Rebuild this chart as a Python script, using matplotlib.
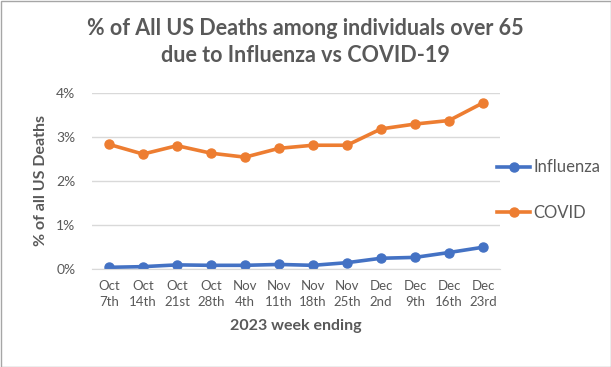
import matplotlib
matplotlib.use("Agg")
import matplotlib.pyplot as plt
from matplotlib.ticker import FuncFormatter
from matplotlib.patches import Rectangle
from matplotlib.lines import Line2D

weeks = ["Oct\n7th", "Oct\n14th", "Oct\n21st", "Oct\n28th", "Nov\n4th", "Nov\n11th",
         "Nov\n18th", "Nov\n25th", "Dec\n2nd", "Dec\n9th", "Dec\n16th", "Dec\n23rd"]
influenza = [0.045, 0.06, 0.10, 0.09, 0.09, 0.11, 0.09, 0.15, 0.25, 0.27, 0.38, 0.50]
covid = [2.83, 2.61, 2.80, 2.63, 2.54, 2.74, 2.81, 2.81, 3.18, 3.29, 3.37, 3.77]

blue = "#4472C4"
orange = "#ED7D31"
txt = "#595959"
plt.rcParams['font.family'] = ['Lato', 'DejaVu Sans']

fig = plt.figure(figsize=(6.11, 3.67), dpi=100)
ax = fig.add_axes([92/611, 1-269.3/367, (500-92)/611, (269.3-92.7)/367])
x = list(range(len(weeks)))
ax.plot(x, influenza, color=blue, lw=2.6, marker='o', ms=6.5, label="Influenza", solid_capstyle='round')
ax.plot(x, covid, color=orange, lw=2.6, marker='o', ms=6.5, label="COVID", solid_capstyle='round')
ax.set_xlim(-0.5, 11.5)
ax.set_ylim(0, 4)
ax.set_yticks([0, 1, 2, 3, 4])
ax.yaxis.set_major_formatter(FuncFormatter(lambda v, p: f"{int(v)}%"))
ax.set_xticks(x)
ax.set_xticklabels(weeks, fontsize=9.5, color=txt, linespacing=1.35)
ax.tick_params(axis='y', labelsize=10, colors=txt, length=0, pad=12)
ax.tick_params(axis='x', length=0, pad=8)
ax.grid(axis='y', color='#D9D9D9', lw=1)
ax.set_axisbelow(True)
for s in ['top', 'right', 'left']:
    ax.spines[s].set_visible(False)
ax.spines['bottom'].set_color('#D9D9D9')
ax.set_ylabel("% of all US Deaths", fontsize=11.5, fontweight='bold', color=txt, labelpad=6)
ax.set_xlabel("2023 week ending", fontsize=11.5, fontweight='bold', color=txt, labelpad=8)

fig.text(0.5, 1-42/367, "% of All US Deaths among individuals over 65\ndue to Influenza vs COVID-19",
         ha='center', va='center', fontsize=15.5, fontweight='bold', color=txt, linespacing=1.3)

handles = [Line2D([0], [0], color=blue, lw=2.6, marker='o', ms=6.5),
           Line2D([0], [0], color=orange, lw=2.6, marker='o', ms=6.5)]
fig.legend(handles, ["Influenza", "COVID"], loc='center left', bbox_to_anchor=(497/611, 1-190/367),
           frameon=False, fontsize=12, labelcolor=txt, handlelength=2.0, handletextpad=0.2,
           labelspacing=1.75, borderpad=0, borderaxespad=0)

fig.patches.append(Rectangle((0.5/611, 0.5/367), 1-1/611, 1-1/367, transform=fig.transFigure,
                             fill=False, edgecolor='#A6A6A6', lw=1))
fig.savefig("out.png", dpi=100)
